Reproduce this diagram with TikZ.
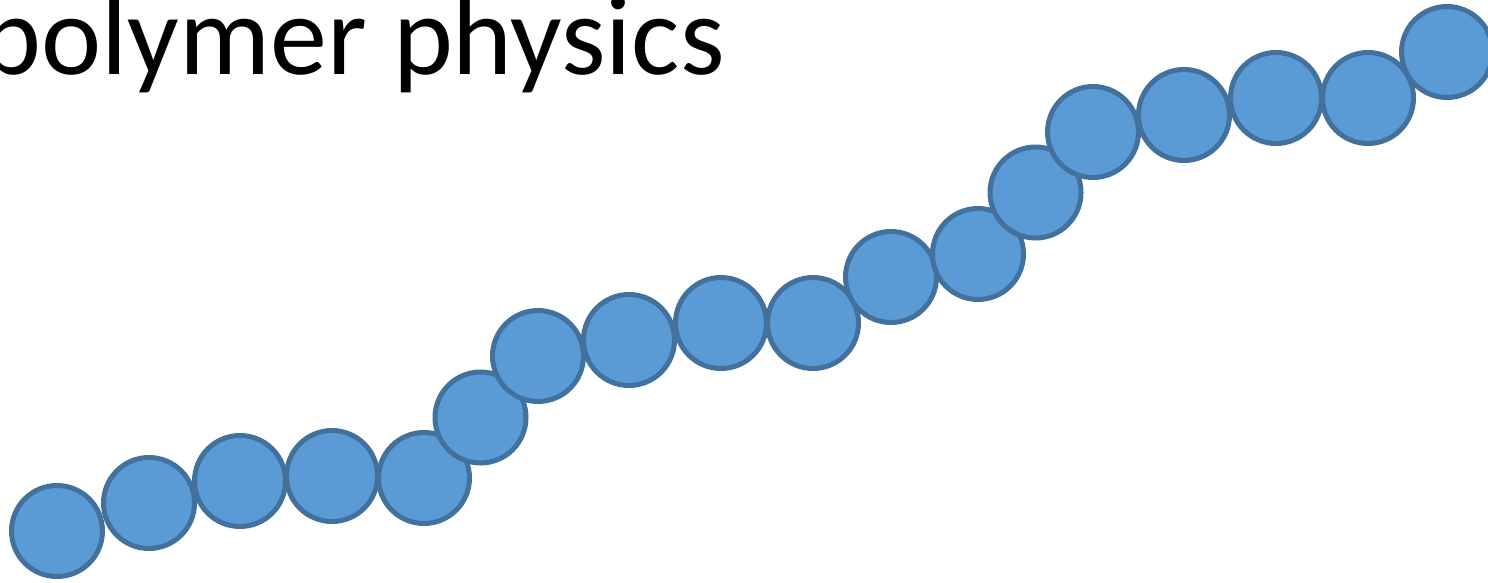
\documentclass[tikz,border=0pt]{standalone}
\usepackage{fontspec}
\setmainfont{Carlito}
\definecolor{beadfill}{HTML}{5B9BD5}
\definecolor{beadline}{HTML}{41719C}
\begin{document}
\begin{tikzpicture}[x=1pt,y=-1pt,
  bead/.style={circle,draw=beadline,fill=beadfill,line width=5pt,minimum size=91pt,inner sep=0pt}]
\useasboundingbox (0,0) rectangle (1488,583);
\node[anchor=base east,inner sep=0pt,font=\fontsize{114}{120}\selectfont] (title) at (725,75) {polymer physics};
\foreach \i/\x/\y in {1/57/531,2/149/503,3/240/481,4/332/476,5/424/478,6/480.5/417.5,7/538/356,8/629/340,9/721/323,10/813/323,11/891/277,12/978/254,13/1035.5/192.5,14/1093/132,15/1184/115,16/1276/98,17/1368/98,18/1447/52}
  \node[bead] (b\i) at (\x,\y) {};
\end{tikzpicture}
\end{document}
